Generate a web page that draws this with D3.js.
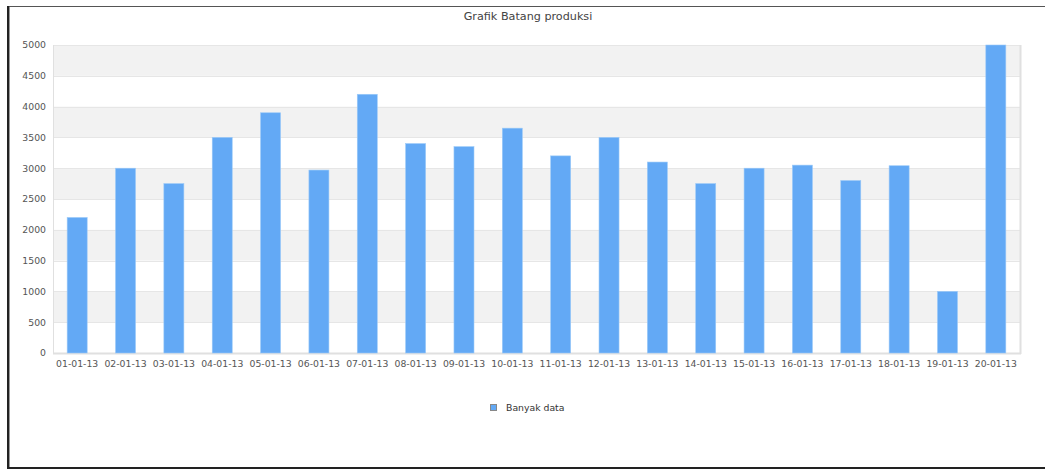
<!DOCTYPE html>
<html>
<head>
<meta charset="utf-8">
<script src="https://cdn.jsdelivr.net/npm/d3@7"></script>
<style>
html,body{margin:0;padding:0;background:#fff;}
svg{display:block;font-family:"DejaVu Sans",sans-serif;}
</style>
</head>
<body>
<svg id="chart" width="1045" height="469"></svg>
<script>
const categories = ["01-01-13","02-01-13","03-01-13","04-01-13","05-01-13","06-01-13","07-01-13","08-01-13","09-01-13","10-01-13","11-01-13","12-01-13","13-01-13","14-01-13","15-01-13","16-01-13","17-01-13","18-01-13","19-01-13","20-01-13"];
const values = [2200,3000,2750,3500,3900,2970,4200,3400,3350,3650,3200,3500,3100,2750,3000,3050,2800,3040,1000,5000];
const yTicks = [0,500,1000,1500,2000,2500,3000,3500,4000,4500,5000];
const seriesName = "Banyak data";
const title = "Grafik Batang produksi";

const svg = d3.select("#chart");
const W = 1045, H = 469;
const m = {left:53, right:1020, top:45, bottom:353};

// outer frame
svg.append("line").attr("x1",7).attr("x2",W).attr("y1",6.5).attr("y2",6.5).attr("stroke","#555").attr("stroke-width",1);
svg.append("rect").attr("x",7).attr("y",6).attr("width",2).attr("height",463).attr("fill","#222");
svg.append("rect").attr("x",9).attr("y",7).attr("width",1).attr("height",460).attr("fill","#999");
svg.append("rect").attr("x",7).attr("y",467).attr("width",W-7).attr("height",2).attr("fill","#222");

const x = d3.scaleBand().domain(categories).range([m.left, m.right]).paddingInner(0.586).paddingOuter(0.293);
const y = d3.scaleLinear().domain([0,5000]).range([m.bottom, m.top]);

// alternating bands
for (let i = 0; i < yTicks.length - 1; i++) {
  const y0 = yTicks[i], y1 = yTicks[i+1];
  if (i % 2 === 1) {
    svg.append("rect").attr("x", m.left).attr("y", y(y1)).attr("width", m.right - m.left)
      .attr("height", y(y0) - y(y1)).attr("fill", "#f2f2f2");
  }
}
// grid lines
svg.append("g").selectAll("line").data(yTicks).join("line")
  .attr("x1", m.left).attr("x2", m.right)
  .attr("y1", d => Math.round(y(d)) + 0.5).attr("y2", d => Math.round(y(d)) + 0.5)
  .attr("stroke", "#e6e6e6").attr("stroke-width", 1);

// plot border
svg.append("line").attr("x1", m.left+0.5).attr("x2", m.left+0.5).attr("y1", m.top).attr("y2", m.bottom+1).attr("stroke","#e0e0e0");
svg.append("line").attr("x1", m.right+0.5).attr("x2", m.right+0.5).attr("y1", m.top).attr("y2", m.bottom+1).attr("stroke","#e0e0e0").attr("stroke-width",2);
svg.append("line").attr("x1", m.left).attr("x2", m.right+1).attr("y1", m.bottom+0.5).attr("y2", m.bottom+0.5).attr("stroke","#e0e0e0").attr("stroke-width",2);

// bars
svg.append("g").selectAll("rect").data(values).join("rect")
  .attr("x", (d,i) => x(categories[i]))
  .attr("y", d => y(d))
  .attr("width", x.bandwidth())
  .attr("height", d => y(0) - y(d))
  .attr("fill", "#63a9f5")
  .attr("stroke", "#9ccaf8").attr("stroke-width", 0.6);

// y axis labels
const yAxis = d3.axisLeft(y).tickValues(yTicks).tickSize(0).tickPadding(7).tickFormat(d3.format("d"));
const gy = svg.append("g").attr("transform", `translate(${m.left},0)`).call(yAxis);
gy.select(".domain").remove();
gy.selectAll("text").attr("font-size", "9.3px").attr("fill", "#555").attr("font-family", "DejaVu Sans");

// x axis labels
const xAxis = d3.axisBottom(x).tickSize(0).tickPadding(7);
const gx = svg.append("g").attr("transform", `translate(0,${m.bottom})`).call(xAxis);
gx.select(".domain").remove();
gx.selectAll("text").attr("font-size", "9.3px").attr("fill", "#555").attr("font-family", "DejaVu Sans");

// title
svg.append("text").attr("x", 528).attr("y", 20).attr("text-anchor","middle")
  .attr("font-size","11.2px").attr("fill","#444").text(title);

// legend
const lg = svg.append("g").attr("transform","translate(490,404)");
lg.append("rect").attr("x",0.5).attr("y",0.5).attr("width",6).attr("height",6)
  .attr("fill","#63a9f5").attr("stroke","#888").attr("stroke-width",1);
lg.append("text").attr("x",16).attr("y",6.8).attr("font-size","9.3px").attr("fill","#333").text(seriesName);
</script>
</body>
</html>
